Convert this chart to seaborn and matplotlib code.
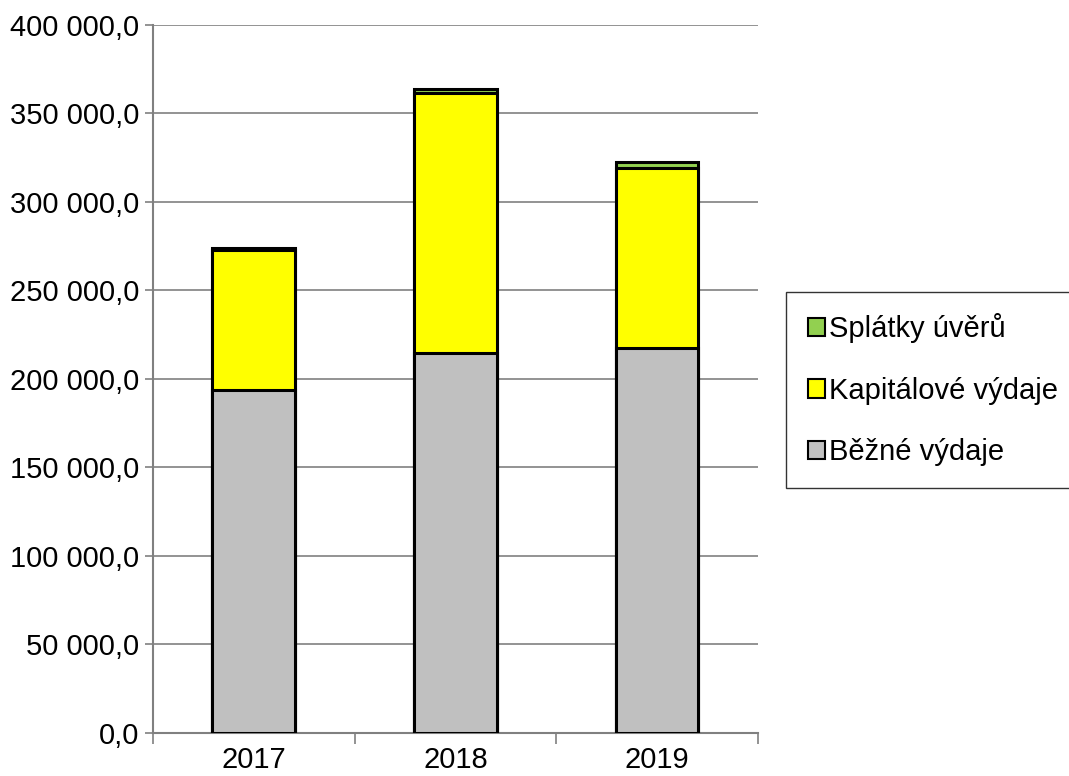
import matplotlib
matplotlib.use("Agg")
import matplotlib.pyplot as plt
import seaborn as sns
import pandas as pd
from matplotlib.patches import Patch
from matplotlib.ticker import FuncFormatter, FixedLocator

# data
years = ["2017", "2018", "2019"]
bezne = [193800, 214900, 217400]
kapitalove = [78800, 146700, 101800]
splatky = [1400, 1900, 3400]

df = pd.DataFrame({"rok": years, "bezne": bezne, "kap": kapitalove, "spl": splatky})
df["kum2"] = df["bezne"] + df["kap"]
df["kum3"] = df["kum2"] + df["spl"]

sns.set_style("white")
plt.rcParams["font.family"] = ["Liberation Sans", "DejaVu Sans"]
plt.rcParams["text.color"] = "black"
plt.rcParams["xtick.color"] = "black"
plt.rcParams["ytick.color"] = "black"

fig = plt.figure(figsize=(10.69, 7.76), dpi=100)
ax = fig.add_axes([0.143, 0.0554, 0.566, 0.9126])

# stacked look: draw cumulative totals from tallest to shortest
bar_kw = dict(width=0.41, edgecolor="black", linewidth=2.2, zorder=3)
sns.barplot(data=df, x="rok", y="kum3", color="#92d050", saturation=1, ax=ax, **bar_kw)
sns.barplot(data=df, x="rok", y="kum2", color="#ffff00", saturation=1, ax=ax, **bar_kw)
sns.barplot(data=df, x="rok", y="bezne", color="#c0c0c0", saturation=1, ax=ax, **bar_kw)

ax.set_ylim(0, 400000)
ax.set_xlim(-0.5, 2.5)
ax.set_yticks(range(0, 400001, 50000))
ax.yaxis.set_major_formatter(FuncFormatter(
    lambda v, p: f"{v:,.1f}".replace(",", " ").replace(".", ",")))
ax.grid(axis="y", color="#808080", linewidth=1.2, zorder=0)
ax.set_axisbelow(True)
ax.set_xlabel("")
ax.set_ylabel("")

for s in ["top", "right"]:
    ax.spines[s].set_visible(False)
for s in ["left", "bottom"]:
    ax.spines[s].set_color("#808080")
    ax.spines[s].set_linewidth(1.5)

ax.tick_params(axis="y", length=6, width=1.2, color="#808080", labelcolor="black",
               labelsize=21, pad=4, left=True)
ax.tick_params(axis="x", which="major", length=0, labelsize=21, labelcolor="black", pad=9)
ax.xaxis.set_minor_locator(FixedLocator([-0.5, 0.5, 1.5, 2.5]))
ax.tick_params(axis="x", which="minor", length=8, width=1.2, color="#808080", bottom=True)

handles = [Patch(facecolor="#92d050", edgecolor="black", linewidth=1.5),
           Patch(facecolor="#ffff00", edgecolor="black", linewidth=1.5),
           Patch(facecolor="#c0c0c0", edgecolor="black", linewidth=1.5)]
labels = ["Splátky úvěrů", "Kapitálové výdaje", "Běžné výdaje"]
leg = fig.legend(handles, labels, loc="center left",
                 bbox_to_anchor=(0.735, 0.375, 0.265, 0.245),
                 fontsize=21, frameon=True, fancybox=False,
                 handlelength=0.6, handleheight=0.6, handletextpad=0.15,
                 labelspacing=1.15, borderpad=0.75, borderaxespad=0)
leg.get_frame().set_edgecolor("black")
leg.get_frame().set_linewidth(1.0)
for t in leg.get_texts():
    t.set_color("black")

fig.savefig("out.png", dpi=100)
